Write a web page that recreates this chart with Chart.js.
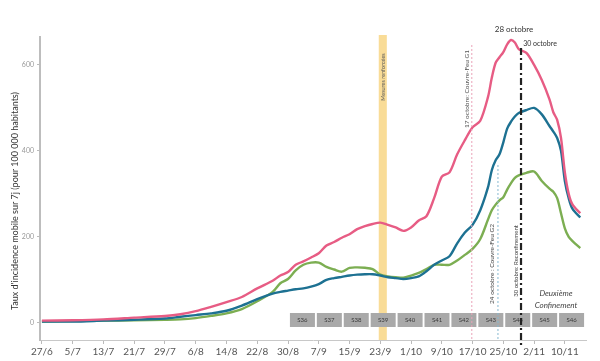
<!DOCTYPE html>
<html>
<head>
<meta charset="utf-8">
<script src="https://cdn.jsdelivr.net/npm/chart.js@4.4.1/dist/chart.umd.min.js"></script>
<style>
  html, body { margin: 0; padding: 0; background: #fff; }
  #wrap { width: 600px; height: 361px; }
</style>
</head>
<body>
<div id="wrap"><canvas id="myChart" width="600" height="361"></canvas></div>
<script>
// days since 27/6
const days = [0, 8, 16, 24, 32, 36, 40, 44, 48, 52, 56, 60, 62, 64, 66, 68, 70, 72, 74, 76, 78, 80, 82, 84, 86, 88, 90, 92, 94, 96, 98, 100, 102, 104, 106, 108, 110, 112, 114, 116, 117, 118, 119, 120, 121, 122, 123, 124, 126, 128, 130, 132, 133, 134, 135, 136, 137, 138, 140];

const tauxRose = [5, 6, 8, 12, 16, 20, 27, 37, 48, 60, 80, 98, 110, 118, 135, 143, 152, 162, 180, 188, 198, 206, 218, 225, 230, 233, 228, 222, 214, 222, 238, 248, 290, 340, 350, 392, 425, 455, 470, 525, 570, 605, 618, 630, 648, 658, 652, 637, 628, 600, 565, 520, 490, 472, 430, 350, 300, 275, 255];
const tauxBleu = [3, 3, 5, 7, 10, 14, 18, 22, 28, 40, 55, 68, 72, 75, 78, 80, 84, 90, 100, 104, 107, 110, 112, 113, 113, 110, 106, 104, 102, 104, 108, 120, 135, 145, 155, 185, 210, 228, 262, 315, 355, 378, 392, 420, 452, 468, 480, 488, 495, 500, 485, 458, 445, 430, 400, 330, 290, 265, 245];
const tauxVert = [3, 4, 5, 6, 7, 8, 11, 16, 22, 32, 50, 72, 92, 102, 122, 135, 140, 140, 130, 124, 119, 128, 129, 128, 125, 112, 108, 106, 105, 110, 116, 125, 135, 135, 135, 145, 158, 172, 195, 240, 262, 275, 285, 292, 310, 325, 337, 343, 349, 352, 330, 312, 305, 290, 255, 220, 200, 190, 174];

const tickDays = [0, 8, 16, 24, 32, 40, 48, 56, 64, 72, 80, 88, 96, 104, 112, 120, 128, 136];
const tickLabels = ['27/6', '5/7', '13/7', '21/7', '29/7', '6/8', '14/8', '22/8', '30/8', '7/9', '15/9', '23/9', '1/10', '9/10', '17/10', '25/10', '2/11', '10/11'];
const yTicks = [0, 200, 400, 600];

const semaines = ['S36', 'S37', 'S38', 'S39', 'S40', 'S41', 'S42', 'S43', 'S44', 'S45', 'S46'];
const premierJourS36 = 64.5;

const FONT = 'Lato, "Open Sans", sans-serif';

function pts(vals) {
  return days.map((d, i) => ({ x: d, y: vals[i] }));
}

function vText(ctx, text, x, y, size, color, italic) {
  ctx.save();
  ctx.translate(x, y);
  ctx.rotate(-Math.PI / 2);
  ctx.font = (italic ? 'italic ' : '') + size + 'px ' + FONT;
  ctx.fillStyle = color;
  ctx.textAlign = 'center';
  ctx.textBaseline = 'middle';
  ctx.fillText(text, 0, 0);
  ctx.restore();
}

function hText(ctx, text, x, y, size, color, italic) {
  ctx.font = (italic ? 'italic ' : '') + size + 'px ' + FONT;
  ctx.fillStyle = color;
  ctx.textAlign = 'center';
  ctx.textBaseline = 'middle';
  ctx.fillText(text, x, y);
}

function vLine(ctx, x, y1, y2, color, width, dash) {
  ctx.save();
  ctx.strokeStyle = color;
  ctx.lineWidth = width;
  ctx.setLineDash(dash);
  ctx.beginPath();
  ctx.moveTo(x, y1);
  ctx.lineTo(x, y2);
  ctx.stroke();
  ctx.restore();
}

// band + week boxes + event lines + texts
const decorPlugin = {
  id: 'decor',
  beforeDatasetsDraw(chart) {
    const ctx = chart.ctx;
    const xs = chart.scales.x;
    const a = chart.chartArea;
    // Mesures renforcées band
    const b1 = xs.getPixelForValue(87.6), b2 = xs.getPixelForValue(89.7);
    ctx.fillStyle = '#f9dc97';
    ctx.fillRect(b1, 35, b2 - b1, a.bottom - 35);
    vText(ctx, 'Mesures renforcées', (b1 + b2) / 2, 77, 5.5, '#555');

    // week boxes
    semaines.forEach((s, i) => {
      const d0 = premierJourS36 + i * 7;
      const x1 = xs.getPixelForValue(d0), x2 = xs.getPixelForValue(d0 + 6.5);
      ctx.fillStyle = '#a9a9a9';
      ctx.fillRect(x1, 313, x2 - x1, 14);
      hText(ctx, s, (x1 + x2) / 2, 320, 6, '#3a3a3a');
    });
  },
  afterDatasetsDraw(chart) {
    const ctx = chart.ctx;
    const xs = chart.scales.x;
    const a = chart.chartArea;

    const x17 = xs.getPixelForValue(111.8);
    vLine(ctx, x17, 45, a.bottom, '#eaa3b8', 1, [2, 2]);
    vText(ctx, '17 octobre: Couvre-Feu G1', x17 - 5, 89, 6.5, '#555');

    const x24 = xs.getPixelForValue(118.6);
    vLine(ctx, x24, 165, a.bottom, '#86b9d0', 1, [2, 2]);
    vText(ctx, '24 octobre : Couvre-Feu G2', x24 - 6, 264, 6.5, '#444');

    const x30 = xs.getPixelForValue(124.6);
    vLine(ctx, x30, 48, a.bottom + 5, '#222', 2.2, [7, 3, 2, 3]);
    vText(ctx, '30 octobre: Reconfinement', x30 - 5, 261, 6, '#444');

    hText(ctx, '28 octobre', 514, 29, 8, '#333');
    hText(ctx, '30 octobre', 540, 44, 7, '#333');
    hText(ctx, 'Deuxième', 556, 293, 8, '#444', true);
    hText(ctx, 'Confinement', 556, 305, 8, '#444', true);

    // y axis title
    vText(ctx, "Taux d'incidence mobile sur 7j (pour 100 000 habitants)", 15, 201, 9, '#333');
  }
};

const config = {
  type: 'line',
  data: {
    datasets: [
      { label: 'rose', data: pts(tauxRose), borderColor: '#e75c84' },
      { label: 'bleu', data: pts(tauxBleu), borderColor: '#1d7192' },
      { label: 'vert', data: pts(tauxVert), borderColor: '#7cae52' }
    ]
  },
  options: {
    responsive: false,
    animation: false,
    events: [],
    layout: { padding: { left: 0, right: 14, top: 37, bottom: 0 } },
    elements: {
      line: { borderWidth: 2.4, tension: 0.3, fill: false },
      point: { radius: 0 }
    },
    plugins: {
      legend: { display: false },
      tooltip: { enabled: false }
    },
    scales: {
      x: {
        type: 'linear',
        min: -0.5,
        max: 141.5,
        afterFit: (s) => { s.height = 21; },
        afterBuildTicks: (axis) => { axis.ticks = tickDays.map(v => ({ value: v })); },
        ticks: {
          autoSkip: false,
          maxRotation: 0,
          padding: 2,
          color: '#555',
          font: { family: FONT, size: 10 },
          callback: (v) => tickLabels[tickDays.indexOf(v)]
        },
        grid: { drawOnChartArea: false, tickLength: 4, color: '#bbb' },
        border: { color: '#c8c8c8', width: 1 }
      },
      y: {
        min: -40,
        max: 665,
        afterFit: (s) => { s.width = 40; },
        afterBuildTicks: (axis) => { axis.ticks = yTicks.map(v => ({ value: v })); },
        ticks: {
          padding: 3,
          color: '#999',
          font: { family: FONT, size: 7 }
        },
        grid: { drawOnChartArea: false, tickLength: 3, color: '#bbb' },
        border: { color: '#bdbdbd', width: 2 }
      }
    }
  },
  plugins: [decorPlugin]
};

window.onload = function () {
  const ctx = document.getElementById('myChart');
  new Chart(ctx, config);
};
</script>
</body>
</html>
